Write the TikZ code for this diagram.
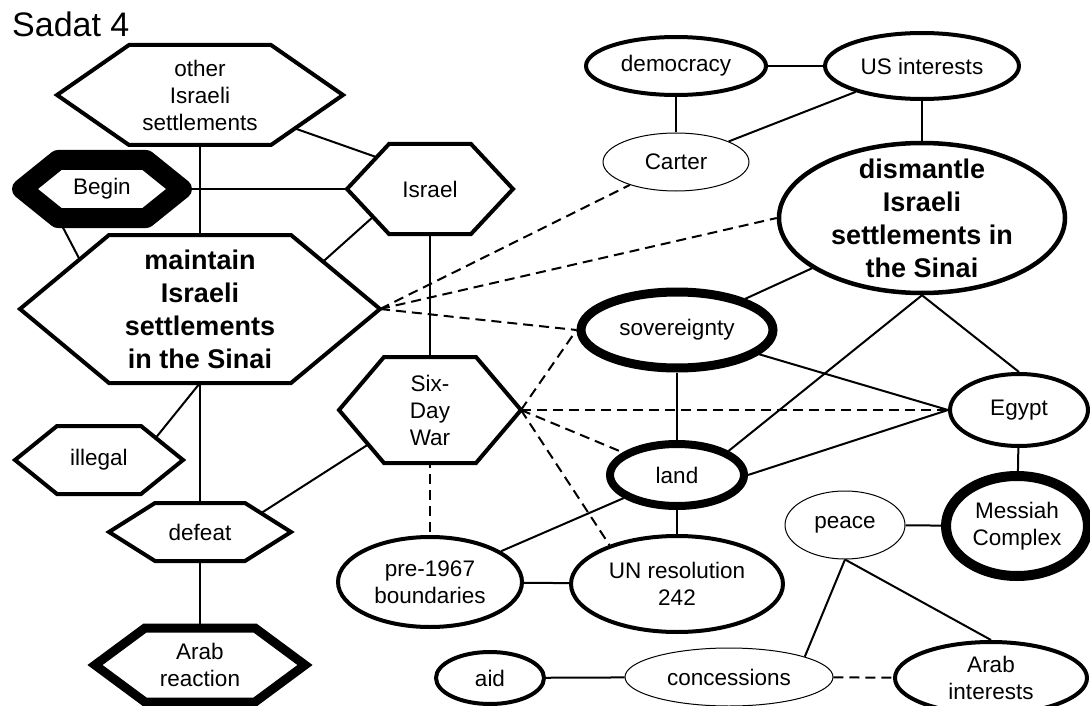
\documentclass[tikz,border=0pt]{standalone}
\usepackage{fontspec}
\setmainfont{Liberation Sans}
\usetikzlibrary{calc,shapes.geometric}

\pgfdeclarelayer{background}
\pgfsetlayers{background,main}

\tikzset{
	txt/.style={align=center, inner sep=0pt, font=\fontsize{22.5}{27}\selectfont},
	bigtxt/.style={align=center, inner sep=0pt, font=\fontsize{27}{33}\selectfont\bfseries},
	hexline/.style={draw, fill=white, line width=4pt},
	oval/.style={ellipse, draw, fill=white, line width=4pt, txt},
	link/.style={line width=2pt},
	dlink/.style={line width=2pt, dash pattern=on 10pt off 6pt},
}

% style, text style, name, center, half width, half height, inset, text
\newcommand{\hexnode}[8]{%
	\begin{scope}[shift={#4}]
		\draw[hexline,#1] (-#5,0) coordinate (#3-w) -- (-#5+#7,-#6) coordinate (#3-nw) -- (#5-#7,-#6) coordinate (#3-ne) -- (#5,0) coordinate (#3-e) -- (#5-#7,#6) coordinate (#3-se) -- (-#5+#7,#6) coordinate (#3-sw) -- cycle;
		\coordinate (#3-s) at (0,#6);
		\node[#2] (#3) at (0,0) {#8};
	\end{scope}}

\begin{document}
\begin{tikzpicture}[x=1pt,y=-1pt]
	\useasboundingbox (0,0) rectangle (1090,706);

	\node[anchor=base west, inner sep=0pt, font=\fontsize{34}{40}\selectfont] (title) at (12,37) {Sadat 4};

	\hexnode{}{txt}{other}{(200,95)}{143}{50}{72}{other\\Israeli\\settlements}
	\hexnode{line width=20pt, line join=round}{txt}{begin}{(102,189)}{80}{29}{36}{Begin}
	\hexnode{}{txt}{israel}{(430,189)}{83}{45}{42}{Israel}
	\hexnode{}{bigtxt}{maintain}{(200,309)}{180}{74}{89}{maintain\\Israeli\\settlements\\in the Sinai}
	\hexnode{}{txt}{illegal}{(99,460)}{84}{34}{42}{illegal}
	\hexnode{}{txt}{defeat}{(200,532)}{91}{29}{46}{defeat}
	\hexnode{line width=9pt}{txt}{arabreact}{(200,665)}{105}{37}{50}{Arab\\reaction}
	\hexnode{}{txt}{sixday}{(430,410)}{91}{53}{45}{Six-\\Day\\War}

	\node[oval, minimum width=180pt, minimum height=58pt] (dem) at (676,66) {democracy};
	\node[oval, minimum width=194pt, minimum height=66pt] (us) at (922,66) {US interests};
	\node[oval, line width=1pt, minimum width=146pt, minimum height=58pt] (carter) at (676,162) {Carter};
	\node[oval, bigtxt, inner ysep=-10pt, line width=4.5pt, minimum width=286pt, minimum height=150pt] (dismantle) at (922,218) {dismantle\\Israeli\\settlements in\\the Sinai};
	\node[oval, line width=9pt, minimum width=192pt, minimum height=76pt] (sov) at (677,330) {sovereignty};
	\node[oval, line width=8pt, minimum width=134pt, minimum height=62pt] (land) at (677,475) {land};
	\node[oval, minimum width=138pt, minimum height=72pt] (egypt) at (1019,410) {Egypt};
	\node[oval, line width=10pt, minimum width=142pt, minimum height=100pt] (messiah) at (1017,526) {Messiah\\Complex};
	\node[oval, line width=1pt, minimum width=120pt, minimum height=68pt] (peace) at (845,525) {peace};
	\node[oval, minimum width=212pt, minimum height=96pt] (un) at (677,584) {UN resolution\\242};
	\node[oval, minimum width=184pt, minimum height=90pt] (pre) at (430,582) {pre-1967\\boundaries};
	\node[oval, minimum width=108pt, minimum height=52pt] (aid) at (490,678) {aid};
	\node[oval, line width=1pt, minimum width=208pt, minimum height=58pt] (conc) at (729,677) {concessions};
	\node[oval, minimum width=192pt, minimum height=72pt] (arabint) at (991,678) {Arab\\interests};

	\begin{pgfonlayer}{background}
		\draw[link] (other.center) -- ([yshift=13pt]israel.center);
		\draw[link] (other.center) -- (maintain.center);
		\draw[link] (begin.center) -- (israel.center);
		\draw[link] (begin-sw) -- ($(maintain-w)!0.67!(maintain-nw)$);
		\draw[link] ($(israel-w)!0.62!(israel-sw)$) -- ($(maintain-ne)!0.36!(maintain-e)$);
		\draw[link] (israel.center) -- (sixday.center);
		\draw[link] (maintain-s) -- ($(illegal-ne)!0.35!(illegal-e)$);
		\draw[link] (maintain.center) -- (defeat.center);
		\draw[link] (defeat.center) -- (arabreact.center);
		\draw[link] ($(defeat-ne)!0.35!(defeat-e)$) -- ($(sixday-w)!0.65!(sixday-sw)$);

		\draw[dlink] (sixday.center) -- (pre);
		\draw[dlink] (sixday-e) -- (sov.west);
		\draw[dlink] (sixday-e) -- (egypt.west);
		\draw[dlink] (sixday-e) -- (land);
		\draw[dlink] (sixday-e) -- (un.150);
		\draw[dlink] (maintain-e) -- (carter);
		\draw[dlink] (maintain-e) -- (dismantle.west);
		\draw[dlink] (maintain-e) -- (sov.west);

		\draw[link] (dem) -- (us);
		\draw[link] (dem) -- (carter);
		\draw[link] (us) -- (carter);
		\draw[link] (us) -- (dismantle);
		\draw[link] (dismantle) -- (sov);
		\draw[link] (dismantle.south) -- (land.25);
		\draw[link] (dismantle.south) -- (egypt.north);
		\draw[link] (sov) -- (land);
		\draw[link] (sov) -- (egypt.west);
		\draw[link] (land.east) -- (egypt.west);
		\draw[link] (egypt) -- (messiah);
		\draw[link] (land) -- (un);
		\draw[link] (land) -- (pre);
		\draw[link] (pre) -- (un);
		\draw[link] (peace) -- (messiah);
		\draw[link] (peace.south) -- (conc.15);
		\draw[link] (peace.south) -- (arabint.north);
		\draw[link] (aid) -- (conc);
		\draw[dlink] (conc) -- (arabint);
	\end{pgfonlayer}
\end{tikzpicture}
\end{document}
